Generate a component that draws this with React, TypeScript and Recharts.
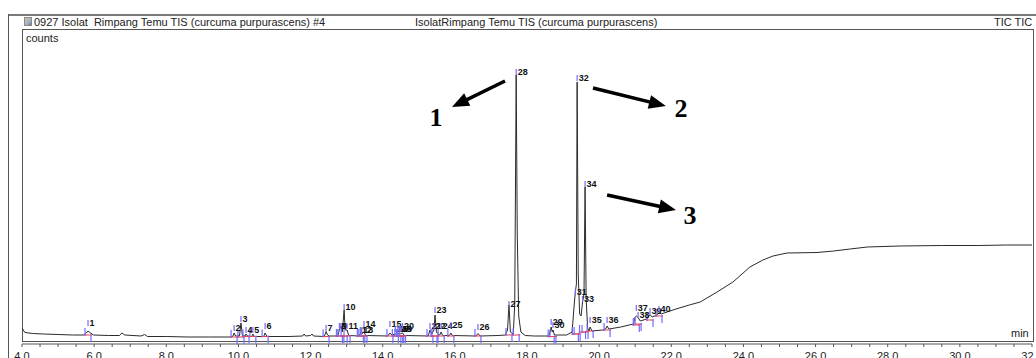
import React from 'react';
import { ComposedChart, Line, Scatter, XAxis, YAxis, ReferenceLine } from 'recharts';

// Total ion chromatogram trace (retention time in min, relative counts)
const traceTimes = [
  4.0, 4.08, 4.3, 4.6, 5.0, 5.4, 5.72, 5.78, 5.83, 5.88, 5.98, 6.4, 6.7, 6.77, 6.85, 7.3, 7.4, 7.48,
  8.0, 8.6, 9.2, 9.8, 9.85, 9.88, 9.92, 10.03, 10.07, 10.11, 10.18, 10.21, 10.25, 10.37, 10.4, 10.44,
  10.7, 10.74, 10.79, 11.4, 11.78, 11.82, 11.86, 12.0, 12.04, 12.08, 12.38, 12.43, 12.47, 12.52,
  12.76, 12.8, 12.84, 12.88, 12.93, 12.96, 13.01, 13.06, 13.34, 13.38, 13.42, 13.48, 13.53,
  14.14, 14.2, 14.25, 14.35, 14.42, 14.47, 14.5, 14.55, 14.6, 15.26, 15.31, 15.36, 15.42, 15.45,
  15.49, 15.55, 15.58, 15.62, 15.66, 15.85, 15.89, 15.93, 16.58, 16.64, 16.7, 17.2, 17.4, 17.46,
  17.5, 17.54, 17.62, 17.66, 17.7, 17.73, 17.77, 17.83, 17.95, 18.2, 18.6, 18.64, 18.67, 18.7,
  18.72, 18.76, 19.1, 19.25, 19.31, 19.34, 19.37, 19.39, 19.42, 19.46, 19.5, 19.54, 19.58, 19.61,
  19.64, 19.68, 19.72, 19.75, 19.8, 20.1, 20.18, 20.22, 20.27, 20.6, 20.95, 21.0, 21.03, 21.08,
  21.14, 21.32, 21.41, 21.47, 21.6, 21.66, 21.72, 22.13, 22.5, 22.8, 23.27, 23.71, 24.18, 24.54,
  24.82, 25.21, 26.04, 26.5, 26.96, 27.43, 28.34, 29.5, 30.5, 31.3, 32.0,
];
const traceCounts = [
  16, 11.5, 10.5, 10, 9.5, 9, 9, 11, 13, 11.5, 9, 8.5, 8.5, 11, 9, 8, 9.5, 7.5,
  7.5, 7, 7, 7, 8, 11, 8, 8, 21, 8.5, 8, 10, 8, 7.5, 10, 7.5,
  7.5, 11, 7.5, 7.5, 8, 10, 8, 8.5, 10, 8, 7.5, 12.5, 9, 8,
  8, 15, 18, 12, 34, 14, 14, 8.5, 8, 10.5, 10, 12, 8.5,
  8, 11, 9, 10, 10.5, 9.5, 10.5, 11, 8.5, 8, 14, 10, 14, 29,
  12, 9, 9, 12, 8.5, 8.5, 11, 8.5, 8, 10.5, 8, 8.5, 9, 14,
  39, 12, 10, 40, 269, 110, 28, 12, 8.5, 8, 8, 12, 17, 12,
  14, 9, 9, 12, 40, 52, 60, 262, 70, 30, 28, 42, 50, 157,
  45, 16, 13, 17, 13, 14, 15, 18, 15, 17, 20, 27, 28, 26.5,
  23, 25, 29.5, 27, 29, 31.5, 30, 35, 39, 42, 52, 62, 77, 84,
  88, 91, 91.5, 93, 95, 97, 98, 98.5, 98.5, 99, 99,
];

// Peak annotations
const peakIds = [
  '1', '2', '3', '4', '5', '6', '7', '8', '9', '10', '11', '12', '13', '14', '15', '16', '17', '18', '19', '20',
  '21', '22', '23', '24', '25', '26', '27', '28', '29', '30', '31', '32', '33', '34', '35', '36', '37', '38', '39', '40',
];
const peakTimes = [
  5.83, 9.88, 10.07, 10.21, 10.4, 10.74, 12.43, 12.8, 12.84, 12.93, 13.01, 13.38, 13.42, 13.48, 14.2, 14.35, 14.42, 14.47, 14.5, 14.55,
  15.31, 15.42, 15.45, 15.62, 15.89, 16.64, 17.5, 17.7, 18.67, 18.72, 19.34, 19.39, 19.54, 19.61, 19.75, 20.22, 21.03, 21.08, 21.41, 21.66,
];
const peakLabelCounts = [
  18, 13, 22, 11, 11, 15, 13, 15, 15, 34, 15, 11, 11, 17, 17, 12, 12, 12, 12, 15,
  15, 15, 31, 15, 16, 14, 37, 269, 19, 16, 49, 263, 42, 157, 21, 21, 33, 26, 30, 32,
];
const peakBaseCounts = [
  9, 7, 7, 7.5, 7.5, 7.5, 7.5, 8, 8, 8, 8, 8, 8, 8, 8, 8, 8, 8, 8, 8,
  8, 8, 8, 8, 8, 8, 9, 9, 7.5, 7.5, 10, 10, 12, 12, 13, 14, 19, 20, 24, 28,
];

// Axis ticks (min)
const axisTicks = [
  4, 4.5, 5, 5.5, 6, 6.5, 7, 7.5, 8, 8.5, 9, 9.5, 10, 10.5, 11, 11.5, 12, 12.5, 13, 13.5, 14, 14.5,
  15, 15.5, 16, 16.5, 17, 17.5, 18, 18.5, 19, 19.5, 20, 20.5, 21, 21.5, 22, 22.5, 23, 23.5, 24, 24.5,
  25, 25.5, 26, 26.5, 27, 27.5, 28, 28.5, 29, 29.5, 30, 30.5, 31, 31.5, 32,
];

// Hand-drawn arrows + numbers
const arrowStarts = [[17.39, 263], [19.83, 256], [20.22, 149]];
const arrowEnds = [[15.92, 237], [21.85, 238], [22.13, 134]];
const arrowTexts = ['1', '2', '3'];
const arrowTextPos = [[15.48, 218], [22.27, 227], [22.52, 120]];

const trace = traceTimes.map((t, i) => ({ t, v: traceCounts[i] }));
const peakLabels = peakIds.map((id, i) => ({ t: peakTimes[i], v: peakLabelCounts[i], id }));
const peakBases = peakIds.map((id, i) => ({ t: peakTimes[i], v: peakBaseCounts[i], id }));
const arrowLabels = arrowTexts.map((text, i) => ({ t: arrowTextPos[i][0], v: arrowTextPos[i][1], text }));

const SANS = "Arial, 'Liberation Sans', Helvetica, sans-serif";
const SERIF = "'Liberation Serif', 'Times New Roman', serif";

const PeakLabel = (p: any) => {
  const { cx, cy, payload } = p;
  if (cx == null || cy == null) return null;
  return (
    <g>
      <line x1={cx} y1={cy - 6} x2={cx} y2={cy} stroke="#6f6cff" strokeWidth={1.2} />
      <text x={cx + 1.5} y={cy} fontSize={9} fontWeight="bold" fontFamily={SANS} fill="#111">
        {payload.id}
      </text>
    </g>
  );
};

const BaseMark = (p: any) => {
  const { cx, cy } = p;
  if (cx == null || cy == null) return null;
  return (
    <g>
      <line x1={cx - 4} y1={cy} x2={cx + 4} y2={cy} stroke="#ff3b3b" strokeWidth={1} />
      <line x1={cx - 3} y1={cy - 7} x2={cx - 3} y2={cy + 1} stroke="#6f6cff" strokeWidth={1.2} />
      <line x1={cx + 3} y1={cy - 1} x2={cx + 3} y2={cy + 7} stroke="#6f6cff" strokeWidth={1.2} />
    </g>
  );
};

const BigDigit = (p: any) => {
  const { cx, cy, payload } = p;
  if (cx == null || cy == null) return null;
  return (
    <text x={cx} y={cy} textAnchor="middle" fontSize={26} fontWeight="bold" fontFamily={SERIF} fill="#000">
      {payload.text}
    </text>
  );
};

const ArrowShape = (p: any) => {
  const { x1, y1, x2, y2 } = p;
  if ([x1, y1, x2, y2].some((n) => n == null || isNaN(n))) return null;
  const dx = x2 - x1;
  const dy = y2 - y1;
  const len = Math.hypot(dx, dy) || 1;
  const ux = dx / len;
  const uy = dy / len;
  const head = 17;
  const half = 7;
  const bx = x2 - ux * head;
  const by = y2 - uy * head;
  const px = -uy;
  const py = ux;
  return (
    <g>
      <line x1={x1} y1={y1} x2={bx + ux * 2} y2={by + uy * 2} stroke="#000" strokeWidth={3.5} />
      <polygon
        points={`${x2},${y2} ${bx + px * half},${by + py * half} ${bx - px * half},${by - py * half}`}
        fill="#000"
      />
    </g>
  );
};

const fmtTick = (v: number) => (Math.abs(v % 2) < 1e-9 ? v.toFixed(1) : '');

export default function App() {
  return (
    <div
      style={{
        position: 'absolute',
        left: 0,
        top: 0,
        width: 1036,
        height: 358,
        overflow: 'hidden',
        background: '#fff',
        fontFamily: SANS,
      }}
    >
      {/* outer frame */}
      <div style={{ position: 'absolute', left: 8, top: 14, width: 1028, height: 2, background: '#7a7a7a' }} />
      <div style={{ position: 'absolute', left: 8, top: 14, width: 1, height: 344, background: '#555' }} />
      {/* plot box */}
      <div
        style={{
          position: 'absolute',
          left: 22,
          top: 29,
          width: 1012,
          height: 313,
          border: '1px solid #555',
          boxSizing: 'border-box',
        }}
      />
      {/* header */}
      <div
        style={{
          position: 'absolute',
          left: 24,
          top: 17,
          width: 8,
          height: 9,
          boxSizing: 'border-box',
          border: '1px solid #8a8a8a',
          background: 'linear-gradient(135deg, #d9c27a 0%, #9fb3d9 60%, #777 100%)',
        }}
      />
      <div style={{ position: 'absolute', left: 34, top: 17, fontSize: 11, lineHeight: '11px', color: '#222', whiteSpace: 'pre' }}>
        {'0927 Isolat  Rimpang Temu TIS (curcuma purpurascens) #4'}
      </div>
      <div style={{ position: 'absolute', left: 415, top: 17, fontSize: 11, lineHeight: '11px', color: '#222', whiteSpace: 'pre' }}>
        {'IsolatRimpang Temu TIS (curcuma purpurascens)'}
      </div>
      <div style={{ position: 'absolute', left: 994, top: 17, fontSize: 11, lineHeight: '11px', color: '#222', whiteSpace: 'pre' }}>
        {'TIC TIC'}
      </div>
      <div style={{ position: 'absolute', left: 26, top: 33, fontSize: 11, lineHeight: '11px', color: '#222' }}>counts</div>
      <div style={{ position: 'absolute', left: 1011, top: 328, fontSize: 11, lineHeight: '11px', color: '#222' }}>min</div>

      <div style={{ position: 'absolute', left: 0, top: 0 }}>
        <ComposedChart width={1036} height={358} margin={{ top: 29, right: 4, bottom: 0, left: 22 }}>
          <XAxis
            dataKey="t"
            type="number"
            domain={[4, 32]}
            ticks={axisTicks}
            interval={0}
            allowDataOverflow
            tickFormatter={fmtTick}
            tickSize={3}
            tickMargin={5}
            height={14}
            stroke="#555"
            tickLine={{ stroke: '#555' }}
            tick={{ fontSize: 11, fill: '#222', fontFamily: SANS }}
          />
          <YAxis type="number" domain={[0, 315]} hide allowDataOverflow />
          <Line
            data={trace}
            dataKey="v"
            type="linear"
            stroke="#2b2b2b"
            strokeWidth={1}
            dot={false}
            activeDot={false}
            isAnimationActive={false}
          />
          <Scatter data={peakBases} dataKey="v" shape={BaseMark} isAnimationActive={false} />
          <Scatter data={peakLabels} dataKey="v" shape={PeakLabel} isAnimationActive={false} />
          {arrowStarts.map((s, i) => (
            <ReferenceLine
              key={`arrow-${i}`}
              segment={[
                { x: s[0], y: s[1] },
                { x: arrowEnds[i][0], y: arrowEnds[i][1] },
              ]}
              ifOverflow="visible"
              shape={ArrowShape}
            />
          ))}
          <Scatter data={arrowLabels} dataKey="v" shape={BigDigit} isAnimationActive={false} />
        </ComposedChart>
      </div>
    </div>
  );
}
